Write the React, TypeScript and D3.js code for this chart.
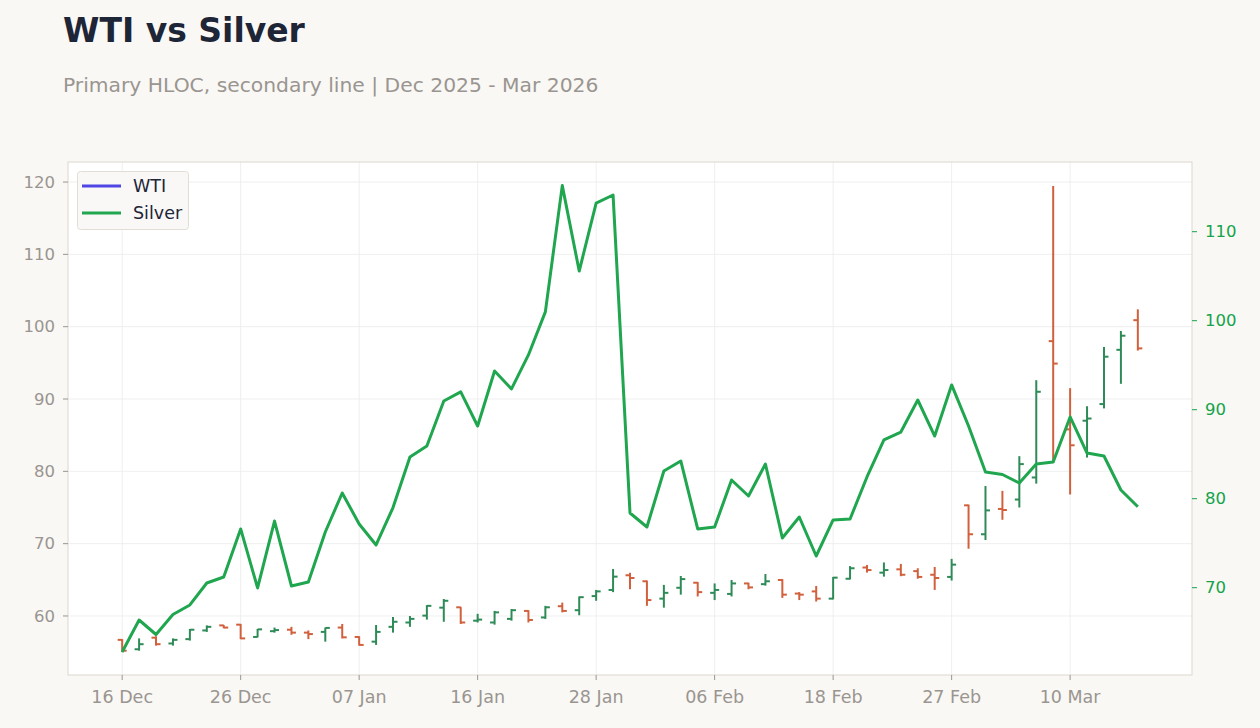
import React from "react";
import * as d3 from "d3";

const dates = ["2025-12-16","2025-12-17","2025-12-18","2025-12-19","2025-12-22","2025-12-23","2025-12-24","2025-12-26","2025-12-29","2025-12-30","2025-12-31","2026-01-02","2026-01-05","2026-01-06","2026-01-07","2026-01-08","2026-01-09","2026-01-12","2026-01-13","2026-01-14","2026-01-15","2026-01-16","2026-01-20","2026-01-21","2026-01-22","2026-01-23","2026-01-26","2026-01-27","2026-01-28","2026-01-29","2026-01-30","2026-02-02","2026-02-03","2026-02-04","2026-02-05","2026-02-06","2026-02-09","2026-02-10","2026-02-11","2026-02-12","2026-02-13","2026-02-17","2026-02-18","2026-02-19","2026-02-20","2026-02-23","2026-02-24","2026-02-25","2026-02-26","2026-02-27","2026-03-02","2026-03-03","2026-03-04","2026-03-05","2026-03-06","2026-03-09","2026-03-10","2026-03-11","2026-03-12","2026-03-13","2026-03-16"];

const wtiOpen = [56.7,55.4,57.0,56.2,56.8,58.0,58.7,58.8,57.1,57.9,58.1,57.7,57.8,58.4,57.1,56.45,58.5,59.1,60.05,61.15,61.2,59.35,59.1,59.6,60.7,59.8,61.35,60.8,62.75,63.6,65.63,64.8,62.4,63.9,64.6,63.2,63.05,64.5,64.4,64.98,63.1,63.4,62.4,65.15,66.7,65.99,66.45,66.2,65.7,65.4,75.3,71.3,74.8,76.1,79.15,98.0,85.8,87.0,89.3,96.8,100.9];
const wtiHigh = [56.8,56.9,57.2,56.9,58.2,58.7,58.75,58.9,58.2,58.4,58.5,58.0,58.4,58.9,57.2,58.75,59.86,60.0,61.5,62.35,61.25,60.3,60.7,60.97,60.8,61.4,61.85,62.7,63.6,66.5,65.99,64.9,64.3,65.53,64.7,64.5,64.98,64.6,65.8,65.1,63.3,64.15,65.4,66.9,67.05,67.4,67.2,66.6,66.77,67.9,75.4,77.97,77.3,82.1,92.6,119.45,91.5,89.0,97.2,99.4,102.4];
const wtiLow = [55.0,55.2,55.9,55.9,56.6,57.8,58.3,56.8,57.05,57.7,57.4,56.8,56.45,56.9,55.9,56.0,57.7,58.5,59.5,59.2,58.9,59.1,58.8,59.35,59.1,59.6,60.5,60.1,62.1,63.3,63.7,61.4,61.15,62.95,62.7,62.2,62.7,63.7,64.2,62.5,62.2,62.0,62.3,65.05,66.0,65.44,65.5,65.15,63.6,64.9,69.3,70.5,73.3,75.0,78.3,81.4,76.8,81.9,88.7,92.1,96.7];
const wtiClose = [55.2,56.1,56.1,56.7,58.1,58.5,58.4,56.9,58.15,58.05,57.7,57.5,58.35,57.05,56.0,57.8,59.2,59.6,61.4,62.1,59.1,59.5,60.5,60.8,59.45,61.2,60.7,62.6,63.4,65.44,65.25,62.2,63.2,65.1,63.3,63.6,64.5,63.95,64.8,62.95,62.95,62.4,65.3,66.6,66.35,66.35,65.7,65.4,65.25,67.1,71.3,74.6,74.65,81.0,91.0,94.9,83.6,87.3,95.85,98.75,97.0];
const silver = [62.78,66.37,64.74,66.99,68.06,70.53,71.2,76.6,69.97,77.49,70.19,70.64,76.26,80.64,77.16,74.8,79.0,84.69,85.93,90.98,92.0,88.17,94.35,92.33,96.15,100.99,115.18,105.58,113.22,114.12,78.39,76.82,83.11,84.24,76.6,76.82,82.1,80.3,83.9,75.58,77.94,73.56,77.61,77.72,82.44,86.6,87.49,91.09,87.04,92.78,88.17,83.0,82.72,81.76,83.9,84.12,89.18,85.13,84.8,80.98,79.1];

const leftTicks = [60, 70, 80, 90, 100, 110, 120];
const rightTicks = [70, 80, 90, 100, 110];
const xTickEvery = 7;

const FONT = "DejaVu Sans, Verdana, sans-serif";
const W = 1260, H = 728;
const M = { left: 68, right: 1192, top: 162, bottom: 675 };
const UP = "#2e8b57";
const DOWN = "#d1603d";
const SILVER = "#1fa64f";
const WTI_LEG = "#4f46e5";
const GRAY = "#9a9590";

export default function App() {
  const n = dates.length;
  const x = d3.scaleLinear().domain([-3.2, n - 1 + 3.2]).range([M.left, M.right]);
  const yL = d3.scaleLinear().domain([51.84, 122.77]).range([M.bottom, M.top]);
  const yR = d3.scaleLinear().domain([60.19, 117.83]).range([M.bottom, M.top]);
  const parse = d3.timeParse("%Y-%m-%d");
  const fmt = d3.timeFormat("%d %b");
  const xTicks = d3.range(0, n, xTickEvery);
  const line = d3.line<number>().x((_, i) => x(i)).y((v) => yR(v));
  const tk = 4.5;

  return (
    <svg width={W} height={H} style={{ position: "absolute", left: 0, top: 0, background: "#f9f8f5" }} fontFamily={FONT}>
      <rect x={0} y={0} width={W} height={H} fill="#f9f8f5" />
      <text x={63} y={42} fontSize={33} fontWeight="bold" fill="#1e2536">WTI vs Silver</text>
      <text x={63} y={92} fontSize={20.3} fill="#9a9590">Primary HLOC, secondary line | Dec 2025 - Mar 2026</text>

      <rect x={M.left} y={M.top} width={M.right - M.left} height={M.bottom - M.top} fill="#ffffff" />
      {leftTicks.map((t) => (
        <line key={"gy" + t} x1={M.left} x2={M.right} y1={yL(t)} y2={yL(t)} stroke="#ebebeb" strokeWidth={0.8} />
      ))}
      {xTicks.map((i) => (
        <line key={"gx" + i} x1={x(i)} x2={x(i)} y1={M.top} y2={M.bottom} stroke="#ebebeb" strokeWidth={0.8} />
      ))}

      {dates.map((_, i) => {
        const up = wtiClose[i] >= wtiOpen[i];
        const c = up ? UP : DOWN;
        const cx = x(i);
        return (
          <g key={"b" + i} stroke={c} strokeWidth={2}>
            <line x1={cx} x2={cx} y1={yL(wtiHigh[i])} y2={yL(wtiLow[i])} />
            <line x1={cx - tk} x2={cx} y1={yL(wtiOpen[i])} y2={yL(wtiOpen[i])} />
            <line x1={cx} x2={cx + tk} y1={yL(wtiClose[i])} y2={yL(wtiClose[i])} />
          </g>
        );
      })}

      <path d={line(silver) || ""} fill="none" stroke={SILVER} strokeWidth={3} strokeLinejoin="round" />

      <rect x={M.left} y={M.top} width={M.right - M.left} height={M.bottom - M.top} fill="none" stroke="#ddd7ce" strokeWidth={1} />

      {leftTicks.map((t) => (
        <g key={"lt" + t}>
          <line x1={M.left - 5} x2={M.left} y1={yL(t)} y2={yL(t)} stroke={GRAY} strokeWidth={1} />
          <text x={M.left - 13} y={yL(t)} dy="0.35em" textAnchor="end" fontSize={16.5} fill={GRAY}>{t}</text>
        </g>
      ))}
      {rightTicks.map((t) => (
        <g key={"rt" + t}>
          <line x1={M.right} x2={M.right + 5} y1={yR(t)} y2={yR(t)} stroke="#16a34a" strokeWidth={1} />
          <text x={M.right + 13} y={yR(t)} dy="0.35em" textAnchor="start" fontSize={16.5} fill="#16a34a">{t}</text>
        </g>
      ))}
      {xTicks.map((i) => (
        <g key={"xt" + i}>
          <line x1={x(i)} x2={x(i)} y1={M.bottom} y2={M.bottom + 5} stroke={GRAY} strokeWidth={1} />
          <text x={x(i)} y={M.bottom + 28} textAnchor="middle" fontSize={17.5} fill={GRAY}>{fmt(parse(dates[i]) as Date)}</text>
        </g>
      ))}

      <g>
        <rect x={77.5} y={171.5} width={111} height={58} rx={3} fill="#f9f8f6" stroke="#e2ddd5" />
        <line x1={82} x2={121} y1={186} y2={186} stroke={WTI_LEG} strokeWidth={3} />
        <text x={133} y={186} dy="0.35em" fontSize={17.5} fill="#1e2536">WTI</text>
        <line x1={82} x2={121} y1={213} y2={213} stroke={SILVER} strokeWidth={3} />
        <text x={133} y={213} dy="0.35em" fontSize={17.5} fill="#1e2536">Silver</text>
      </g>
    </svg>
  );
}
